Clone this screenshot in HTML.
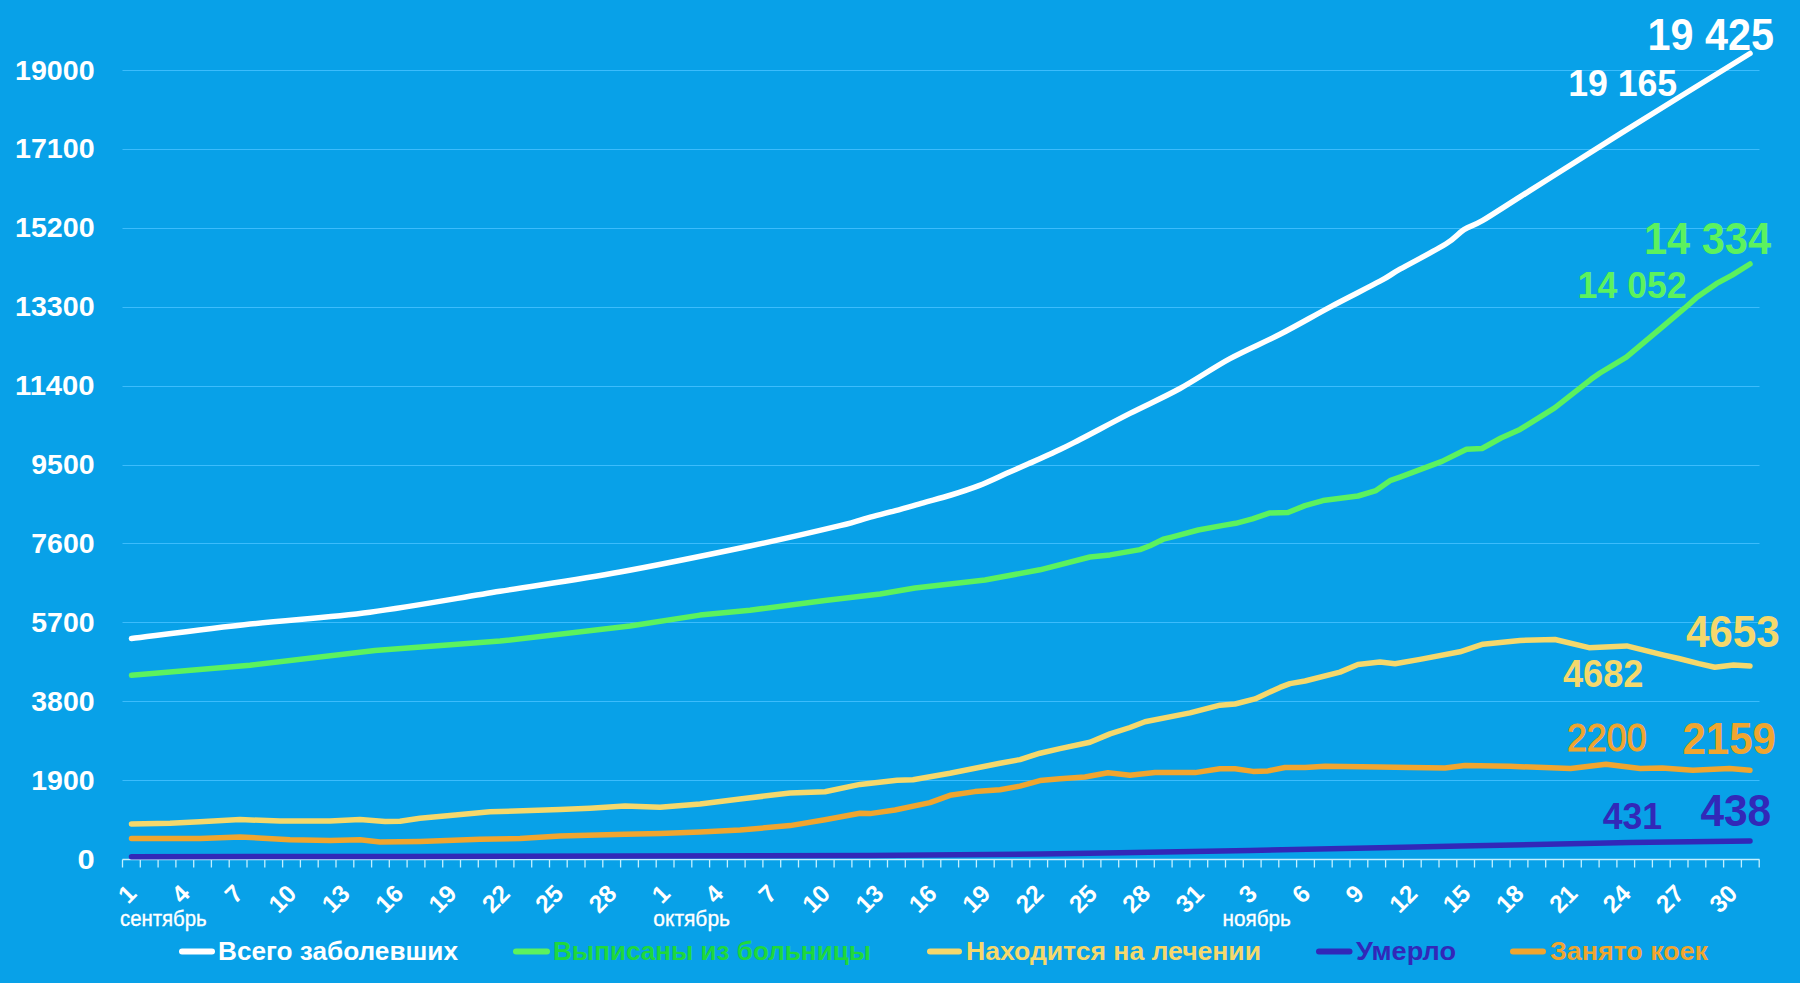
<!DOCTYPE html><html><head><meta charset="utf-8"><style>html,body{margin:0;padding:0;background:#08a1e8;overflow:hidden}svg{display:block}text{font-family:"Liberation Sans",sans-serif}</style></head><body>
<svg width="1800" height="983" viewBox="0 0 1800 983">
<rect width="1800" height="983" fill="#08a1e8"/>
<line x1="122.5" x2="1759.5" y1="780.5" y2="780.5" stroke="#3cbcfc" stroke-width="1.2"/>
<line x1="122.5" x2="1759.5" y1="701.5" y2="701.5" stroke="#3cbcfc" stroke-width="1.2"/>
<line x1="122.5" x2="1759.5" y1="622.5" y2="622.5" stroke="#3cbcfc" stroke-width="1.2"/>
<line x1="122.5" x2="1759.5" y1="543.5" y2="543.5" stroke="#3cbcfc" stroke-width="1.2"/>
<line x1="122.5" x2="1759.5" y1="465.5" y2="465.5" stroke="#3cbcfc" stroke-width="1.2"/>
<line x1="122.5" x2="1759.5" y1="386.5" y2="386.5" stroke="#3cbcfc" stroke-width="1.2"/>
<line x1="122.5" x2="1759.5" y1="307.5" y2="307.5" stroke="#3cbcfc" stroke-width="1.2"/>
<line x1="122.5" x2="1759.5" y1="228.5" y2="228.5" stroke="#3cbcfc" stroke-width="1.2"/>
<line x1="122.5" x2="1759.5" y1="149.5" y2="149.5" stroke="#3cbcfc" stroke-width="1.2"/>
<line x1="122.5" x2="1759.5" y1="70.5" y2="70.5" stroke="#3cbcfc" stroke-width="1.2"/>
<text x="77.4" y="868.5" font-size="27" font-weight="bold" fill="#fff" textLength="17.2" lengthAdjust="spacingAndGlyphs">0</text>
<text x="31.3" y="789.6" font-size="27" font-weight="bold" fill="#fff" textLength="63.3" lengthAdjust="spacingAndGlyphs">1900</text>
<text x="31.3" y="710.7" font-size="27" font-weight="bold" fill="#fff" textLength="63.3" lengthAdjust="spacingAndGlyphs">3800</text>
<text x="31.3" y="631.8" font-size="27" font-weight="bold" fill="#fff" textLength="63.3" lengthAdjust="spacingAndGlyphs">5700</text>
<text x="31.3" y="552.9" font-size="27" font-weight="bold" fill="#fff" textLength="63.3" lengthAdjust="spacingAndGlyphs">7600</text>
<text x="31.3" y="474.0" font-size="27" font-weight="bold" fill="#fff" textLength="63.3" lengthAdjust="spacingAndGlyphs">9500</text>
<text x="15.0" y="395.1" font-size="27" font-weight="bold" fill="#fff" textLength="79.6" lengthAdjust="spacingAndGlyphs">11400</text>
<text x="15.0" y="316.2" font-size="27" font-weight="bold" fill="#fff" textLength="79.6" lengthAdjust="spacingAndGlyphs">13300</text>
<text x="15.0" y="237.3" font-size="27" font-weight="bold" fill="#fff" textLength="79.6" lengthAdjust="spacingAndGlyphs">15200</text>
<text x="15.0" y="158.4" font-size="27" font-weight="bold" fill="#fff" textLength="79.6" lengthAdjust="spacingAndGlyphs">17100</text>
<text x="15.0" y="79.5" font-size="27" font-weight="bold" fill="#fff" textLength="79.6" lengthAdjust="spacingAndGlyphs">19000</text>
<line x1="122.5" x2="1759.5" y1="859.5" y2="859.5" stroke="#c4f0ff" stroke-width="1.3"/>
<path d="M122.5 859.5V867.5 M140.3 859.5V867.5 M158.1 859.5V867.5 M175.9 859.5V867.5 M193.7 859.5V867.5 M211.4 859.5V867.5 M229.2 859.5V867.5 M247.0 859.5V867.5 M264.8 859.5V867.5 M282.6 859.5V867.5 M300.4 859.5V867.5 M318.2 859.5V867.5 M336.0 859.5V867.5 M353.8 859.5V867.5 M371.6 859.5V867.5 M389.3 859.5V867.5 M407.1 859.5V867.5 M424.9 859.5V867.5 M442.7 859.5V867.5 M460.5 859.5V867.5 M478.3 859.5V867.5 M496.1 859.5V867.5 M513.9 859.5V867.5 M531.7 859.5V867.5 M549.5 859.5V867.5 M567.2 859.5V867.5 M585.0 859.5V867.5 M602.8 859.5V867.5 M620.6 859.5V867.5 M638.4 859.5V867.5 M656.2 859.5V867.5 M674.0 859.5V867.5 M691.8 859.5V867.5 M709.6 859.5V867.5 M727.4 859.5V867.5 M745.1 859.5V867.5 M762.9 859.5V867.5 M780.7 859.5V867.5 M798.5 859.5V867.5 M816.3 859.5V867.5 M834.1 859.5V867.5 M851.9 859.5V867.5 M869.7 859.5V867.5 M887.5 859.5V867.5 M905.3 859.5V867.5 M923.0 859.5V867.5 M940.8 859.5V867.5 M958.6 859.5V867.5 M976.4 859.5V867.5 M994.2 859.5V867.5 M1012.0 859.5V867.5 M1029.8 859.5V867.5 M1047.6 859.5V867.5 M1065.4 859.5V867.5 M1083.2 859.5V867.5 M1100.9 859.5V867.5 M1118.7 859.5V867.5 M1136.5 859.5V867.5 M1154.3 859.5V867.5 M1172.1 859.5V867.5 M1189.9 859.5V867.5 M1207.7 859.5V867.5 M1225.5 859.5V867.5 M1243.3 859.5V867.5 M1261.1 859.5V867.5 M1278.8 859.5V867.5 M1296.6 859.5V867.5 M1314.4 859.5V867.5 M1332.2 859.5V867.5 M1350.0 859.5V867.5 M1367.8 859.5V867.5 M1385.6 859.5V867.5 M1403.4 859.5V867.5 M1421.2 859.5V867.5 M1439.0 859.5V867.5 M1456.8 859.5V867.5 M1474.5 859.5V867.5 M1492.3 859.5V867.5 M1510.1 859.5V867.5 M1527.9 859.5V867.5 M1545.7 859.5V867.5 M1563.5 859.5V867.5 M1581.3 859.5V867.5 M1599.1 859.5V867.5 M1616.9 859.5V867.5 M1634.6 859.5V867.5 M1652.4 859.5V867.5 M1670.2 859.5V867.5 M1688.0 859.5V867.5 M1705.8 859.5V867.5 M1723.6 859.5V867.5 M1741.4 859.5V867.5 M1759.2 859.5V867.5" stroke="#c4f0ff" stroke-width="1.3" fill="none"/>
<path d="M131.5 856.8 C176.2 856.7 276.9 856.6 400.0 856.4 C523.1 856.2 750.0 856.1 870.0 855.5 C990.0 854.9 1035.0 854.1 1120.0 852.8 C1205.0 851.5 1295.0 849.4 1380.0 847.7 C1465.0 846.0 1568.3 843.7 1630.0 842.6 C1691.7 841.5 1730.0 841.3 1750.0 841.0" fill="none" stroke="#3228b8" stroke-width="5.5" stroke-linejoin="round" stroke-linecap="round"/>
<polyline points="131.5,838.4 200.0,838.4 240.0,836.9 290.0,839.8 330.0,840.6 360.0,839.8 380.0,842.1 420.0,841.4 480.0,839.2 520.0,838.5 560.0,836.0 625.0,834.3 660.0,833.6 700.0,832.1 740.0,830.0 790.0,825.6 825.0,819.8 860.0,813.3 870.0,813.6 895.0,810.0 930.0,802.6 950.0,795.3 975.0,791.6 1000.0,789.8 1020.0,786.1 1040.0,780.6 1060.0,778.8 1085.0,777.0 1108.0,772.8 1130.0,775.2 1155.0,772.6 1195.0,772.6 1220.0,768.8 1235.0,768.8 1253.0,771.4 1268.0,770.9 1285.0,767.5 1305.0,767.5 1325.0,766.3 1380.0,767.0 1410.0,767.5 1445.0,768.0 1465.0,765.5 1510.0,766.3 1570.6,768.5 1606.0,764.2 1640.2,768.5 1662.2,767.9 1692.8,770.3 1729.5,768.5 1750.0,770.3" fill="none" stroke="#f0a52f" stroke-width="5.5" stroke-linejoin="round" stroke-linecap="round"/>
<polyline points="131.5,823.9 170.0,823.2 200.0,821.8 240.0,819.6 280.0,821.0 330.0,821.0 360.0,819.6 385.0,821.5 400.0,821.2 420.0,818.3 450.0,815.4 490.0,811.8 560.0,809.6 590.0,808.2 625.0,806.0 660.0,807.3 700.0,803.9 740.0,798.9 790.0,793.1 825.0,791.7 860.0,784.4 897.0,780.3 913.0,779.7 950.0,773.3 1000.0,763.2 1020.0,759.6 1040.0,753.2 1060.0,748.6 1090.0,742.2 1110.0,733.9 1130.0,727.5 1145.0,721.8 1190.0,712.9 1220.0,705.2 1235.0,704.0 1255.0,698.9 1280.0,687.4 1290.0,683.6 1305.0,681.0 1340.0,672.1 1358.0,664.5 1380.0,662.0 1395.0,663.8 1420.0,659.4 1460.0,651.8 1483.0,644.2 1520.0,640.4 1555.0,639.5 1589.0,647.7 1626.7,645.9 1662.8,654.9 1678.7,658.5 1698.9,663.6 1714.8,667.2 1733.6,665.0 1750.0,666.0" fill="none" stroke="#f5d86c" stroke-width="5.5" stroke-linejoin="round" stroke-linecap="round"/>
<polyline points="131.5,675.3 250.0,665.2 375.0,650.5 500.0,641.1 630.0,626.0 700.0,615.1 750.0,610.2 825.0,600.5 880.0,594.0 915.0,588.0 985.0,580.0 1040.0,569.8 1090.0,557.0 1110.0,554.9 1140.0,549.6 1150.0,545.8 1163.3,539.2 1171.7,537.1 1198.3,530.0 1223.3,525.4 1235.8,523.3 1252.5,518.8 1270.0,512.9 1288.0,512.5 1305.0,505.6 1323.0,500.6 1358.0,496.0 1376.0,490.6 1390.0,480.7 1400.0,477.1 1442.0,461.4 1466.5,449.3 1482.0,448.5 1501.0,438.0 1520.0,429.4 1554.7,407.8 1591.0,379.3 1600.0,373.0 1626.4,357.1 1659.5,329.3 1684.6,308.2 1696.5,297.6 1716.4,283.7 1732.2,275.1 1750.0,264.0" fill="none" stroke="#5cf25e" stroke-width="5.5" stroke-linejoin="round" stroke-linecap="round"/>
<path d="M131.5 638.6 C151.2 636.2 210.2 628.5 250.0 624.1 C289.8 619.7 328.3 617.7 370.0 612.2 C411.7 606.7 458.3 598.0 500.0 591.3 C541.7 584.6 578.3 579.5 620.0 572.0 C661.7 564.5 713.3 553.7 750.0 546.0 C786.7 538.3 820.4 530.3 840.0 525.6 C859.6 520.9 858.5 520.3 867.8 517.8 C877.1 515.3 886.4 513.1 895.6 510.6 C904.9 508.1 914.0 505.4 923.3 502.8 C932.5 500.2 941.8 497.9 951.1 495.0 C960.4 492.1 969.6 489.2 978.9 485.6 C988.2 482.0 998.4 477.0 1006.7 473.3 C1015.1 469.6 1020.1 467.6 1029.0 463.6 C1037.9 459.6 1051.5 453.5 1060.0 449.5 C1068.5 445.5 1068.3 445.5 1080.0 439.5 C1091.7 433.5 1113.3 421.9 1130.0 413.4 C1146.7 404.9 1163.3 397.6 1180.0 388.5 C1196.7 379.4 1213.3 367.6 1230.0 358.6 C1246.7 349.6 1263.3 342.9 1280.0 334.3 C1296.7 325.7 1313.3 316.0 1330.0 307.1 C1346.7 298.2 1368.3 287.5 1380.0 281.2 C1391.7 274.9 1389.0 275.4 1400.0 269.2 C1411.0 263.0 1435.1 250.6 1445.8 244.0 C1456.5 237.4 1457.9 233.5 1464.0 229.6 C1470.1 225.7 1473.1 226.1 1482.4 220.7 C1491.7 215.2 1508.7 204.0 1520.0 196.9 C1531.3 189.8 1533.3 188.5 1550.0 178.0 C1566.7 167.5 1586.7 154.6 1620.0 133.8 C1653.3 113.1 1728.3 66.9 1750.0 53.5" fill="none" stroke="#ffffff" stroke-width="5.5" stroke-linejoin="round" stroke-linecap="round"/>
<text transform="translate(137.9,895) rotate(-45)" text-anchor="end" font-size="24.5" font-weight="bold" fill="#fff">1</text>
<text transform="translate(191.3,895) rotate(-45)" text-anchor="end" font-size="24.5" font-weight="bold" fill="#fff">4</text>
<text transform="translate(244.6,895) rotate(-45)" text-anchor="end" font-size="24.5" font-weight="bold" fill="#fff">7</text>
<text transform="translate(298.0,895) rotate(-45)" text-anchor="end" font-size="24.5" font-weight="bold" fill="#fff">10</text>
<text transform="translate(351.4,895) rotate(-45)" text-anchor="end" font-size="24.5" font-weight="bold" fill="#fff">13</text>
<text transform="translate(404.8,895) rotate(-45)" text-anchor="end" font-size="24.5" font-weight="bold" fill="#fff">16</text>
<text transform="translate(458.1,895) rotate(-45)" text-anchor="end" font-size="24.5" font-weight="bold" fill="#fff">19</text>
<text transform="translate(511.5,895) rotate(-45)" text-anchor="end" font-size="24.5" font-weight="bold" fill="#fff">22</text>
<text transform="translate(564.9,895) rotate(-45)" text-anchor="end" font-size="24.5" font-weight="bold" fill="#fff">25</text>
<text transform="translate(618.2,895) rotate(-45)" text-anchor="end" font-size="24.5" font-weight="bold" fill="#fff">28</text>
<text transform="translate(671.6,895) rotate(-45)" text-anchor="end" font-size="24.5" font-weight="bold" fill="#fff">1</text>
<text transform="translate(725.0,895) rotate(-45)" text-anchor="end" font-size="24.5" font-weight="bold" fill="#fff">4</text>
<text transform="translate(778.3,895) rotate(-45)" text-anchor="end" font-size="24.5" font-weight="bold" fill="#fff">7</text>
<text transform="translate(831.7,895) rotate(-45)" text-anchor="end" font-size="24.5" font-weight="bold" fill="#fff">10</text>
<text transform="translate(885.1,895) rotate(-45)" text-anchor="end" font-size="24.5" font-weight="bold" fill="#fff">13</text>
<text transform="translate(938.4,895) rotate(-45)" text-anchor="end" font-size="24.5" font-weight="bold" fill="#fff">16</text>
<text transform="translate(991.8,895) rotate(-45)" text-anchor="end" font-size="24.5" font-weight="bold" fill="#fff">19</text>
<text transform="translate(1045.2,895) rotate(-45)" text-anchor="end" font-size="24.5" font-weight="bold" fill="#fff">22</text>
<text transform="translate(1098.6,895) rotate(-45)" text-anchor="end" font-size="24.5" font-weight="bold" fill="#fff">25</text>
<text transform="translate(1151.9,895) rotate(-45)" text-anchor="end" font-size="24.5" font-weight="bold" fill="#fff">28</text>
<text transform="translate(1205.3,895) rotate(-45)" text-anchor="end" font-size="24.5" font-weight="bold" fill="#fff">31</text>
<text transform="translate(1258.7,895) rotate(-45)" text-anchor="end" font-size="24.5" font-weight="bold" fill="#fff">3</text>
<text transform="translate(1312.0,895) rotate(-45)" text-anchor="end" font-size="24.5" font-weight="bold" fill="#fff">6</text>
<text transform="translate(1365.4,895) rotate(-45)" text-anchor="end" font-size="24.5" font-weight="bold" fill="#fff">9</text>
<text transform="translate(1418.8,895) rotate(-45)" text-anchor="end" font-size="24.5" font-weight="bold" fill="#fff">12</text>
<text transform="translate(1472.2,895) rotate(-45)" text-anchor="end" font-size="24.5" font-weight="bold" fill="#fff">15</text>
<text transform="translate(1525.5,895) rotate(-45)" text-anchor="end" font-size="24.5" font-weight="bold" fill="#fff">18</text>
<text transform="translate(1578.9,895) rotate(-45)" text-anchor="end" font-size="24.5" font-weight="bold" fill="#fff">21</text>
<text transform="translate(1632.3,895) rotate(-45)" text-anchor="end" font-size="24.5" font-weight="bold" fill="#fff">24</text>
<text transform="translate(1685.6,895) rotate(-45)" text-anchor="end" font-size="24.5" font-weight="bold" fill="#fff">27</text>
<text transform="translate(1739.0,895) rotate(-45)" text-anchor="end" font-size="24.5" font-weight="bold" fill="#fff">30</text>
<text x="120.0" y="925.5" font-size="21.5" fill="#fff" stroke="#fff" stroke-width="0.35" textLength="86.7" lengthAdjust="spacingAndGlyphs">сентябрь</text>
<text x="653.3" y="925.5" font-size="21.5" fill="#fff" stroke="#fff" stroke-width="0.35" textLength="76.7" lengthAdjust="spacingAndGlyphs">октябрь</text>
<text x="1222.5" y="925.5" font-size="21.5" fill="#fff" stroke="#fff" stroke-width="0.35" textLength="68.3" lengthAdjust="spacingAndGlyphs">ноябрь</text>
<text x="1647.6" y="49.8" font-size="44.6" font-weight="bold" fill="#ffffff" textLength="126.4" lengthAdjust="spacingAndGlyphs">19 425</text>
<text x="1568.2" y="96.0" font-size="37.4" font-weight="bold" fill="#ffffff" textLength="109.0" lengthAdjust="spacingAndGlyphs">19 165</text>
<text x="1644.0" y="254.2" font-size="43.7" font-weight="bold" fill="#5cf25e" textLength="127.0" lengthAdjust="spacingAndGlyphs">14 334</text>
<text x="1577.6" y="298.2" font-size="37.4" font-weight="bold" fill="#5cf25e" textLength="109.0" lengthAdjust="spacingAndGlyphs">14 052</text>
<text x="1685.9" y="647.0" font-size="44.6" font-weight="bold" fill="#f5d86c" textLength="93.9" lengthAdjust="spacingAndGlyphs">4653</text>
<text x="1563.0" y="687.4" font-size="38.4" font-weight="bold" fill="#f5d86c" textLength="80.3" lengthAdjust="spacingAndGlyphs">4682</text>
<text x="1566.9" y="751.3" font-size="38.8" font-weight="normal" fill="#f0a52f" stroke="#f0a52f" stroke-width="1.1" textLength="79.7" lengthAdjust="spacingAndGlyphs">2200</text>
<text x="1682.5" y="753.7" font-size="44.6" font-weight="bold" fill="#f0a52f" textLength="93.5" lengthAdjust="spacingAndGlyphs">2159</text>
<text x="1602.7" y="829.4" font-size="36.3" font-weight="bold" fill="#3228b8" textLength="59.4" lengthAdjust="spacingAndGlyphs">431</text>
<text x="1700.4" y="826.2" font-size="43.5" font-weight="bold" fill="#3228b8" textLength="70.8" lengthAdjust="spacingAndGlyphs">438</text>
<line x1="182.0" x2="212.0" y1="951.5" y2="951.5" stroke="#ffffff" stroke-width="6" stroke-linecap="round"/>
<text x="218.0" y="960" font-size="25" font-weight="bold" fill="#ffffff" textLength="240.0" lengthAdjust="spacingAndGlyphs">Всего заболевших</text>
<line x1="516.0" x2="547.0" y1="951.5" y2="951.5" stroke="#5cf25e" stroke-width="6" stroke-linecap="round"/>
<text x="553.0" y="960" font-size="25" font-weight="bold" fill="#1fd83c" textLength="318.0" lengthAdjust="spacingAndGlyphs">Выписаны из больницы</text>
<line x1="930.0" x2="959.0" y1="951.5" y2="951.5" stroke="#f5d86c" stroke-width="6" stroke-linecap="round"/>
<text x="966.0" y="960" font-size="25" font-weight="bold" fill="#f5d86c" textLength="295.0" lengthAdjust="spacingAndGlyphs">Находится на лечении</text>
<line x1="1319.0" x2="1349.5" y1="951.5" y2="951.5" stroke="#3228b8" stroke-width="6" stroke-linecap="round"/>
<text x="1356.0" y="960" font-size="25" font-weight="bold" fill="#3228b8" textLength="100.0" lengthAdjust="spacingAndGlyphs">Умерло</text>
<line x1="1513.0" x2="1543.0" y1="951.5" y2="951.5" stroke="#f0a52f" stroke-width="6" stroke-linecap="round"/>
<text x="1550.0" y="960" font-size="25" font-weight="bold" fill="#f0a52f" textLength="158.0" lengthAdjust="spacingAndGlyphs">Занято коек</text>
</svg></body></html>
